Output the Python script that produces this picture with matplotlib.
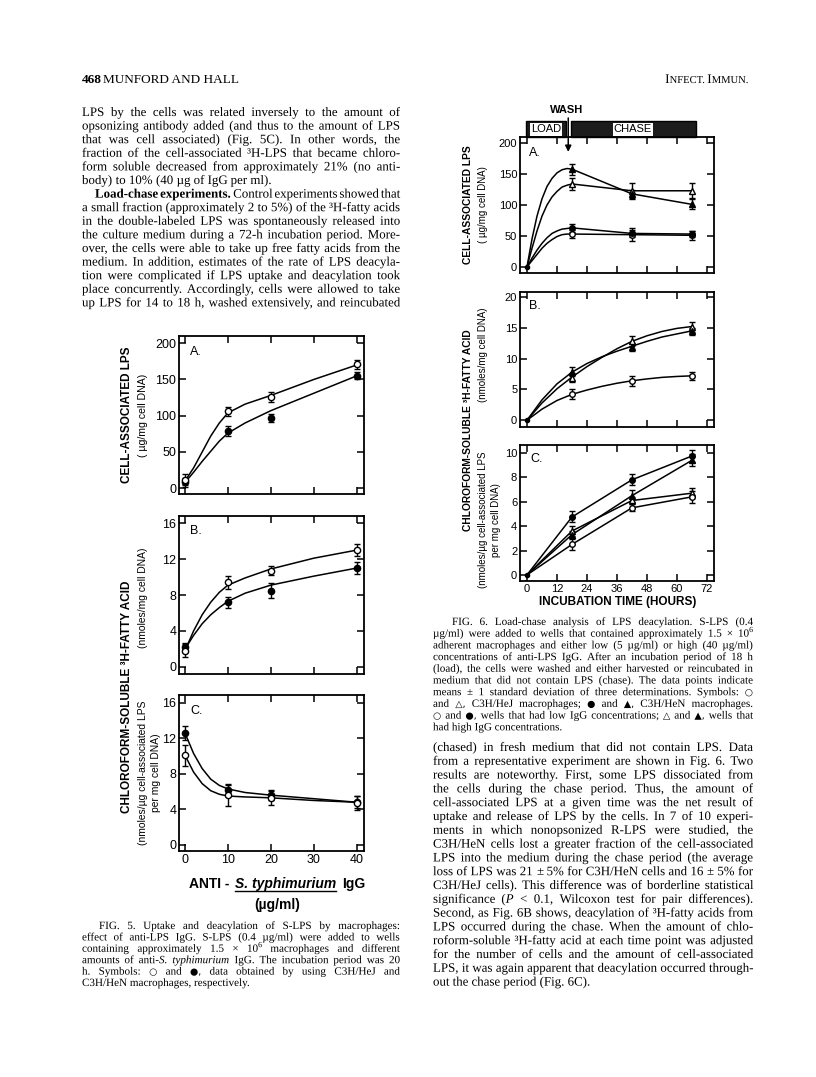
import numpy as np
import matplotlib
matplotlib.use("Agg")
from matplotlib import pyplot as plt
from matplotlib.patches import Rectangle
from matplotlib.lines import Line2D
from matplotlib import transforms
from matplotlib import patheffects

# ---------------- data ----------------
# Fig. 5: anti-S. typhimurium IgG (ug/ml)
conc = [0, 10, 20, 40]
conc_curve = [0, 2, 4, 6, 8, 10, 14, 20, 30, 40]

lps_hej = [12, 106, 126, 171]
lps_hej_sd = [8, 6, 7, 6]
lps_hen = [8, 79, 97, 155]
lps_hen_sd = [6, 7, 6, 5]
lps_hej_curve = [10, 28, 50, 72, 90, 104, 116, 128, 150, 170]
lps_hen_curve = [8, 22, 37, 51, 65, 76, 90, 107, 131, 155]

fa_hej = [1.8, 9.4, 10.7, 13.0]
fa_hej_sd = [0.7, 0.7, 0.5, 0.7]
fa_hen = [2.2, 7.2, 8.5, 11.0]
fa_hen_sd = [0.5, 0.6, 0.8, 0.7]
fa_hej_curve = [1.8, 4.0, 5.8, 7.2, 8.3, 9.1, 9.9, 10.9, 12.1, 13.0]
fa_hen_curve = [2.0, 3.5, 4.8, 5.8, 6.6, 7.3, 8.2, 9.1, 10.1, 11.0]

rel_hej = [10.1, 5.6, 5.3, 4.7]
rel_hej_sd = [1.2, 1.2, 0.8, 0.8]
rel_hen = [12.6, 6.2, 5.6, 4.8]
rel_hen_sd = [0.8, 0.7, 0.6, 0.7]
rel_hej_curve = [10.1, 8.2, 6.9, 6.1, 5.7, 5.5, 5.4, 5.3, 5.0, 4.8]
rel_hen_curve = [12.6, 10.3, 8.6, 7.4, 6.7, 6.3, 5.9, 5.6, 5.2, 4.8]

# Fig. 6: incubation time (hours)
hours = [0, 18, 42, 66]
load_curve_h = [0, 2, 4, 6, 8, 10, 12, 14, 16, 18]
chase_curve_h = [0, 6, 12, 18, 24, 30, 36, 42, 48, 54, 60, 66]

a_hen_high = [0, 158, 118, 101]
a_hen_high_sd = [0, 9, 7, 8]
a_hej_high = [0, 134, 123, 123]
a_hej_high_sd = [0, 10, 13, 12]
a_hen_low = [0, 63, 54, 53]
a_hen_low_sd = [0, 7, 5, 5]
a_hej_low = [0, 53, 52, 51]
a_hej_low_sd = [0, 6, 10, 7]
a_hen_high_load = [0, 45, 82, 110, 130, 143, 152, 157, 159, 158]
a_hej_high_load = [0, 30, 58, 82, 100, 113, 122, 129, 132, 134]
a_hen_low_load = [0, 14, 27, 38, 47, 54, 58, 61, 62, 63]
a_hej_low_load = [0, 10, 20, 30, 38, 44, 49, 52, 53, 53]

b_hej_high = [0, 6.9, 12.9, 15.1]
b_hej_high_sd = [0, 0.7, 0.8, 0.8]
b_hen_high = [0, 7.9, 11.9, 14.4]
b_hen_high_sd = [0, 0.8, 0.6, 0.6]
b_hej_low = [0, 4.2, 6.4, 7.2]
b_hej_low_sd = [0, 0.8, 0.8, 0.7]
b_hej_high_curve = [0, 2.8, 5.1, 7.0, 8.7, 10.2, 11.6, 12.8, 13.7, 14.4, 14.9, 15.2]
b_hen_high_curve = [0, 3.3, 5.9, 7.8, 9.2, 10.3, 11.2, 12.0, 12.8, 13.5, 14.0, 14.5]
b_hej_low_curve = [0, 1.8, 3.2, 4.2, 4.9, 5.5, 6.0, 6.4, 6.7, 6.95, 7.1, 7.2]

c_hen_low = [0, 4.75, 7.8, 9.75]
c_hen_low_sd = [0, 0.45, 0.45, 0.5]
c_hen_high = [0, 3.3, 6.5, 9.4]
c_hen_high_sd = [0, 0.3, 0.5, 0.5]
c_hej_high = [0, 3.6, 6.1, 6.7]
c_hej_high_sd = [0, 0.4, 0.3, 0.4]
c_hej_low = [0, 2.5, 5.5, 6.4]
c_hej_low_sd = [0, 0.45, 0.3, 0.5]

# ---------------- page text ----------------
# *bold*  _italic_  ^superscript^
left_body = [
    "LPS by the cells was related inversely to the amount of",
    "opsonizing antibody added (and thus to the amount of LPS",
    "that was cell associated) (Fig. 5C). In other words, the",
    "fraction of the cell-associated ³H-LPS that became chloro-",
    "form soluble decreased from approximately 21% (no anti-",
    "body) to 10% (40 µg of IgG per ml).",
    "*Load-chase experiments.* Control experiments showed that",
    "a small fraction (approximately 2 to 5%) of the ³H-fatty acids",
    "in the double-labeled LPS was spontaneously released into",
    "the culture medium during a 72-h incubation period. More-",
    "over, the cells were able to take up free fatty acids from the",
    "medium. In addition, estimates of the rate of LPS deacyla-",
    "tion were complicated if LPS uptake and deacylation took",
    "place concurrently. Accordingly, cells were allowed to take",
    "up LPS for 14 to 18 h, washed extensively, and reincubated",
]

right_body = [
    "(chased) in fresh medium that did not contain LPS. Data",
    "from a representative experiment are shown in Fig. 6. Two",
    "results are noteworthy. First, some LPS dissociated from",
    "the cells during the chase period. Thus, the amount of",
    "cell-associated LPS at a given time was the net result of",
    "uptake and release of LPS by the cells. In 7 of 10 experi-",
    "ments in which nonopsonized R-LPS were studied, the",
    "C3H/HeN cells lost a greater fraction of the cell-associated",
    "LPS into the medium during the chase period (the average",
    "loss of LPS was 21 ± 5% for C3H/HeN cells and 16 ± 5% for",
    "C3H/HeJ cells). This difference was of borderline statistical",
    "significance (_P_ < 0.1, Wilcoxon test for pair differences).",
    "Second, as Fig. 6B shows, deacylation of ³H-fatty acids from",
    "LPS occurred during the chase. When the amount of chlo-",
    "roform-soluble ³H-fatty acid at each time point was adjusted",
    "for the number of cells and the amount of cell-associated",
    "LPS, it was again apparent that deacylation occurred through-",
    "out the chase period (Fig. 6C).",
]

cap5 = [
    "FIG. 5. Uptake and deacylation of S-LPS by macrophages:",
    "effect of anti-LPS IgG. S-LPS (0.4 µg/ml) were added to wells",
    "containing approximately 1.5 × 10^6^ macrophages and different",
    "amounts of anti-_S. typhimurium_ IgG. The incubation period was 20",
    "h. Symbols: ○ and ●, data obtained by using C3H/HeJ and",
    "C3H/HeN macrophages, respectively.",
]

cap6 = [
    "FIG. 6. Load-chase analysis of LPS deacylation. S-LPS (0.4",
    "µg/ml) were added to wells that contained approximately 1.5 × 10^6^",
    "adherent macrophages and either low (5 µg/ml) or high (40 µg/ml)",
    "concentrations of anti-LPS IgG. After an incubation period of 18 h",
    "(load), the cells were washed and either harvested or reincubated in",
    "medium that did not contain LPS (chase). The data points indicate",
    "means ± 1 standard deviation of three determinations. Symbols: ○",
    "and △, C3H/HeJ macrophages; ● and ▲, C3H/HeN macrophages.",
    "○ and ●, wells that had low IgG concentrations; △ and ▲, wells that",
    "had high IgG concentrations.",
]

# ---------------- page set-up ----------------
W, H = 816, 1077
SERIF = 'Liberation Serif'
SYMB = 'DejaVu Sans'
PE = [patheffects.Normal()]   # draw text as paths: no pixel snapping per word
plt.rcParams['font.family'] = ['Liberation Sans', 'DejaVu Sans']

fig = plt.figure(figsize=(W / 100, H / 100), dpi=100)
fig.patch.set_facecolor('white')
rend = fig.canvas.get_renderer()


def fx(x):
    return x / W


def fy(y):
    return 1 - y / H


def parse(line):
    words, segs, buf = [], [], ''
    bold = ital = sup = False
    for ch in line + ' ':
        if ch in '*_^ ':
            if buf:
                segs.append((buf, (bold, ital, sup)))
                buf = ''
            if ch == '*':
                bold = not bold
            elif ch == '_':
                ital = not ital
            elif ch == '^':
                sup = not sup
            elif segs:
                words.append(segs)
                segs = []
        else:
            buf += ch
    return words


def mk(s, style, size):
    b, i, u = style
    fam, pe = SERIF, PE
    if any(c in '○●△▲' for c in s):
        fam, size = SYMB, size * 0.85
    if '±' in s:
        pe = None   # the path version of this glyph comes out broken
    return fig.text(0, 0, s, fontsize=size * 0.7 if u else size, family=fam,
                    va='baseline', fontweight='bold' if b else 'normal',
                    fontstyle='italic' if i else 'normal', path_effects=pe)


def wid(t):
    return t.get_window_extent(rend).width


def measure(s, style, size):
    t = mk(s, style, size)
    w = wid(t)
    t.remove()
    return w


def column(lines, x0, x1, y0, dy, size, indent={}, ragged=()):
    plain = (False, False, False)
    sp = measure('a a', plain, size) - measure('aa', plain, size)
    for k, line in enumerate(lines):
        y = y0 + k * dy
        start = x0 + indent.get(k, 0)
        words = parse(line)
        z = size
        while True:
            segw = [[measure(s, st, z) for s, st in w] for w in words]
            ws = [sum(v) for v in segw]
            if k in ragged or len(words) == 1:
                gap = sp
                break
            gap = (x1 - start - sum(ws)) / (len(words) - 1)
            if gap > 0.55 * sp or z < size - 1:
                break
            z -= 0.1
        rise = z * 0.42 * 100 / 72
        x = start
        for w, v, wt in zip(words, segw, ws):
            xx = x
            for (s, st), sw in zip(w, v):
                t = mk(s, st, z)
                t.set_position((fx(xx), fy(y - rise if st[2] else y)))
                xx += sw
            x += wt + gap


# header
fig.text(fx(82), fy(83), "468", fontsize=9.5, family=SERIF, fontweight='bold')
fig.text(fx(103), fy(83), "MUNFORD AND HALL", fontsize=9.5, family=SERIF)
parts = [("I", 9.5), ("NFECT. ", 7.6), ("I", 9.5), ("MMUN.", 7.6)]
objs = [fig.text(0, 0, s, fontsize=z, family=SERIF, path_effects=PE) for s, z in parts]
tot = sum(wid(t) for t in objs)
x = 748 - tot
for t in objs:
    t.set_position((fx(x), fy(83)))
    x += wid(t)

column(left_body, 82, 400, 116, 13.6, 9.3, indent={6: 13}, ragged=(5,))
column(right_body, 433, 753, 751, 13.8, 9.3, ragged=(17,))
column(cap5, 82, 400, 929, 11.4, 8.0, indent={0: 17}, ragged=(5,))
column(cap6, 433, 753, 625, 11.7, 8.0, indent={0: 19}, ragged=(9,))


# ---------------- plotting helpers ----------------
def panel(box, xlim, ylim, xt, yt, letter, lpos, show_x, size):
    l, t, r, b = box
    ax = fig.add_axes([fx(l), fy(b), (r - l) / W, (b - t) / H])
    ax.set_xlim(xlim)
    ax.set_ylim(ylim)
    ax.set_xticks(xt)
    ax.set_yticks(yt)
    ax.tick_params(direction='in', top=True, right=True, length=5, width=1.1,
                   labelsize=size, pad=2)
    if not show_x:
        ax.set_xticklabels([])
    for s in ax.spines.values():
        s.set_linewidth(1.3)
    fig.text(fx(lpos[0]), fy(lpos[1]), letter, fontsize=9, ha='left', va='center')
    return ax


def pts(ax, x, y, e, marker, filled, ms=4.5):
    ax.errorbar(x, y, yerr=e, fmt=marker, ms=ms, mfc='black' if filled else 'white',
                mec='black', mew=1, ecolor='black', elinewidth=1, capsize=2.5,
                capthick=1, zorder=3)


def ylab(x, y, s, size=7.5, weight='bold'):
    fig.text(fx(x), fy(y), s, rotation=90, ha='center', va='center',
             fontsize=size, fontweight=weight)


LW = 1.1

# ---------------- Fig. 5 ----------------
x5 = (-1.4, 41.7)
t5 = [0, 10, 20, 30, 40]
ax = panel((179, 336, 364, 494), x5, (-8, 210), t5, [0, 50, 100, 150, 200], "A.", (190, 352), False, 9)
ax.plot(conc_curve, lps_hej_curve, color='black', lw=LW)
ax.plot(conc_curve, lps_hen_curve, color='black', lw=LW)
pts(ax, conc, lps_hen, lps_hen_sd, 'o', True)
pts(ax, conc, lps_hej, lps_hej_sd, 'o', False)

ax = panel((179, 516, 364, 674), x5, (-0.8, 16.8), t5, [0, 4, 8, 12, 16], "B.", (190, 531), False, 9)
ax.plot(conc_curve, fa_hej_curve, color='black', lw=LW)
ax.plot(conc_curve, fa_hen_curve, color='black', lw=LW)
pts(ax, conc, fa_hen, fa_hen_sd, 'o', True)
pts(ax, conc, fa_hej, fa_hej_sd, 'o', False)

ax = panel((179, 695, 364, 851), x5, (-0.7, 16.9), t5, [0, 4, 8, 12, 16], "C.", (190, 711), True, 9)
ax.plot(conc_curve, rel_hej_curve, color='black', lw=LW)
ax.plot(conc_curve, rel_hen_curve, color='black', lw=LW)
pts(ax, conc, rel_hen, rel_hen_sd, 'o', True)
pts(ax, conc, rel_hej, rel_hej_sd, 'o', False)

ylab(127, 415, "CELL-ASSOCIATED LPS", 8.5)
ylab(143, 415, "( µg/mg cell DNA)", 7.6, 'normal')
ylab(127, 697, "CHLOROFORM-SOLUBLE ³H-FATTY ACID", 8.5)
ylab(143, 598, "(nmoles/mg cell DNA)", 7.4, 'normal')
ylab(143, 773, "(nmoles/µg cell-associated LPS", 7.4, 'normal')
ylab(156, 773, "per mg cell DNA)", 7.4, 'normal')

# x label with underlined species name
parts = [("ANTI -", 'normal'), ("S. typhimurium", 'italic'), ("IgG", 'normal')]
objs = [fig.text(0, 0, s, fontsize=10, fontweight='bold', fontstyle=st, va='baseline')
        for s, st in parts]
gap5 = 6
tot = sum(wid(t) for t in objs) + gap5 * 2
x = 277 - tot / 2
for k, t in enumerate(objs):
    t.set_position((fx(x), fy(888)))
    if k == 1:
        fig.add_artist(Line2D([fx(x), fx(x + wid(t))], [fy(891), fy(891)],
                              color='black', lw=1.0))
    x += wid(t) + gap5
fig.text(fx(277), fy(905), "(µg/ml)", fontsize=10, fontweight='bold', ha='center', va='center')

# ---------------- Fig. 6 ----------------
x6 = (-2.8, 74.8)
t6 = [0, 12, 24, 36, 48, 60, 72]
ax = panel((520, 137, 714, 273), x6, (-10, 210), t6, [0, 50, 100, 150, 200], "A.", (529, 153), False, 8)
for load, ser in [(a_hen_high_load, a_hen_high), (a_hej_high_load, a_hej_high),
                  (a_hen_low_load, a_hen_low), (a_hej_low_load, a_hej_low)]:
    ax.plot(load_curve_h, load, color='black', lw=LW)
    ax.plot(hours[1:], ser[1:], color='black', lw=LW)
ax.plot(hours[0], a_hen_high[0], 'o', ms=3, color='black', zorder=4)
pts(ax, hours[1:], a_hej_high[1:], a_hej_high_sd[1:], '^', False, 4)
pts(ax, hours[1:], a_hen_high[1:], a_hen_high_sd[1:], '^', True, 4)
pts(ax, hours[1:], a_hej_low[1:], a_hej_low_sd[1:], 'o', False, 4)
pts(ax, hours[1:], a_hen_low[1:], a_hen_low_sd[1:], 'o', True, 4)

# load / chase bar and wash arrow
trans = transforms.blended_transform_factory(ax.transData, ax.transAxes)
ax.add_patch(Rectangle((-0.4, 1.0), 16.0, 0.118, transform=trans, fc='#1c1c1c',
                       ec='black', clip_on=False))
ax.add_patch(Rectangle((17.6, 1.0), 50.0, 0.118, transform=trans, fc='#1c1c1c',
                       ec='black', clip_on=False))
ax.text(7.6, 1.057, "LOAD", transform=trans, ha='center', va='center', fontsize=8,
        bbox=dict(boxstyle='square,pad=0.12', fc='white', ec='none'), clip_on=False)
ax.text(42.4, 1.057, "CHASE", transform=trans, ha='center', va='center', fontsize=8,
        bbox=dict(boxstyle='square,pad=0.12', fc='white', ec='none'), clip_on=False)
ax.annotate('', xy=(16.5, 0.87), xytext=(16.5, 1.16), xycoords=trans, textcoords=trans,
            arrowprops=dict(arrowstyle='-|>', color='black', lw=1.1, mutation_scale=9),
            annotation_clip=False)
fig.text(fx(567), fy(110), "WASH", fontsize=8, fontweight='bold', ha='center', va='center')

ax = panel((520, 292, 714, 427), x6, (-1.1, 20.8), t6, [0, 5, 10, 15, 20], "B.", (529, 306), False, 8)
for cur in [b_hej_high_curve, b_hen_high_curve, b_hej_low_curve]:
    ax.plot(chase_curve_h, cur, color='black', lw=LW)
ax.plot(hours[0], b_hej_high[0], 'o', ms=3, color='black', zorder=4)
pts(ax, hours[1:], b_hej_high[1:], b_hej_high_sd[1:], '^', False, 4)
pts(ax, hours[1:], b_hen_high[1:], b_hen_high_sd[1:], '^', True, 4)
pts(ax, hours[1:], b_hej_low[1:], b_hej_low_sd[1:], 'o', False, 4)

ax = panel((520, 445, 714, 581), x6, (-0.5, 10.65), t6, [0, 2, 4, 6, 8, 10], "C.", (530, 459), True, 8)
for ser in [c_hen_low, c_hen_high, c_hej_high, c_hej_low]:
    ax.plot(hours, ser, color='black', lw=LW)
ax.plot(hours[0], c_hen_low[0], 'o', ms=3, color='black', zorder=4)
pts(ax, hours[1:], c_hej_high[1:], c_hej_high_sd[1:], '^', False, 4)
pts(ax, hours[1:], c_hen_high[1:], c_hen_high_sd[1:], '^', True, 4)
pts(ax, hours[1:], c_hej_low[1:], c_hej_low_sd[1:], 'o', False, 4)
pts(ax, hours[1:], c_hen_low[1:], c_hen_low_sd[1:], 'o', True, 4)
fig.text(fx(618), fy(602), "INCUBATION TIME (HOURS)", fontsize=8.5, fontweight='bold',
         ha='center', va='center')

ylab(468, 205, "CELL-ASSOCIATED LPS", 7.4)
ylab(483, 205, "( µg/mg cell DNA)", 7, 'normal')
ylab(468, 430, "CHLOROFORM-SOLUBLE ³H-FATTY ACID", 7.4)
ylab(483, 355, "(nmoles/mg cell DNA)", 7, 'normal')
ylab(483, 520, "(nmoles/µg cell-associated LPS", 7, 'normal')
ylab(496, 520, "per mg cell DNA)", 7, 'normal')

fig.savefig("out.png", dpi=100, facecolor='white')
